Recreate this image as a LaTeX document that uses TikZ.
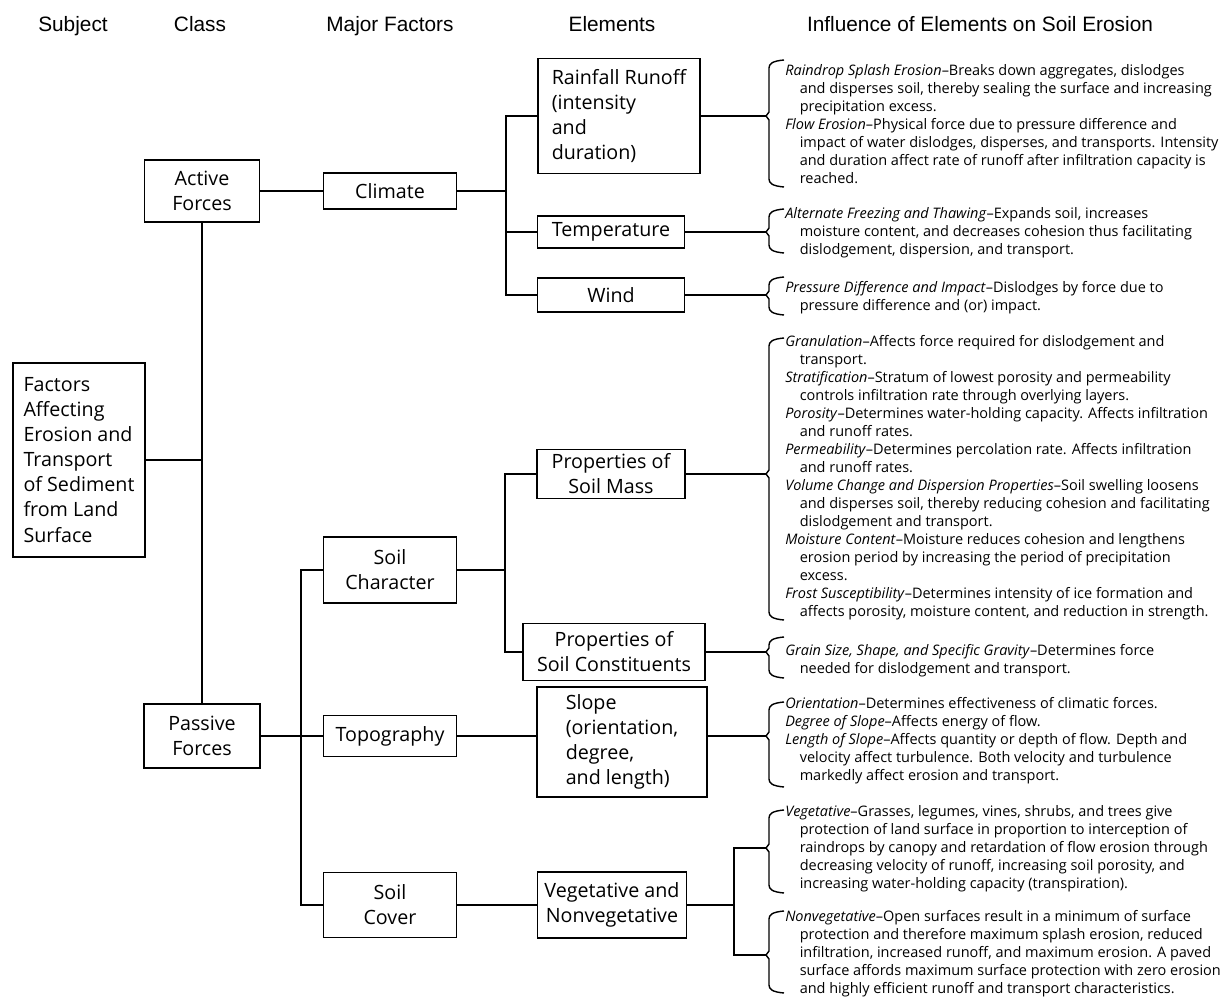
\documentclass[tikz,border=0pt]{standalone}
\usepackage{fontspec}
\setmainfont{Open Sans}
\newfontfamily\headfont{Liberation Sans}
\usetikzlibrary{positioning}

\newcommand{\term}[1]{\textit{#1}\textendash}
\newcommand{\ind}{\hspace*{1em}}
\newcommand{\infobrace}[5]{%
  \draw[link] (#2+15,#3) .. controls (#2+3,#3+1) and (#2,#3+4) .. (#2,#3+8)
    -- (#2,#4-4) -- (#2-3,#4) -- (#2,#4+4) -- (#2,#5-8)
    .. controls (#2,#5-4) and (#2+3,#5-1) .. (#2+15,#5);
  \coordinate (#1) at (#2-3,#4);}

\tikzset{
  box/.style={draw, line width=1.3pt, align=center, inner sep=2pt,
    font=\fontsize{14}{17.8}\selectfont},
  boxsize/.style 2 args={minimum width=#1*0.025cm, minimum height=#2*0.025cm},
  infotext/.style={anchor=north west, inner sep=0pt, align=left,
    font=\fontsize{10.3}{12.8}\selectfont},
  heading/.style={anchor=base, font=\headfont\fontsize{14.8}{16}\selectfont},
  link/.style={line width=1pt}
}

\begin{document}
\begin{tikzpicture}[x=0.025cm, y=-0.025cm]
\useasboundingbox (0,0) rectangle (1225,998);

\node[heading] (hsubject) at (73,32) {Subject};
\node[heading] (hclass) at (200,32) {Class};
\node[heading] (hmajor) at (390,32) {Major Factors};
\node[heading] (helements) at (612,32) {Elements};
\node[heading] (hinfluence) at (980,32) {Influence of Elements on Soil Erosion};

\node[box, boxsize={132}{194}, align=left] (factors) at (79,460)
  {Factors\\Affecting\\Erosion and\\Transport\\of Sediment\\from Land\\Surface};
\node[box, boxsize={115}{62}] (active) at (202,191) {Active\\Forces};
\node[box, boxsize={116}{64}] (passive) at (202,736) {Passive\\Forces};

\node[box, boxsize={133}{36}] (climate) at (390,191) {Climate};
\node[box, boxsize={133}{66}] (soilchar) at (390,570) {Soil\\Character};
\node[box, boxsize={133}{41}] (topo) at (390,736) {Topography};
\node[box, boxsize={133}{65}] (soilcover) at (390,905) {Soil\\Cover};

\node[box, boxsize={162}{115}, align=left] (rain) at (619,116)
  {Rainfall Runoff\\(intensity\\and\\duration)};
\node[box, boxsize={147}{32}] (temp) at (611,232) {Temperature};
\node[box, boxsize={147}{34}] (wind) at (611,295) {Wind};
\node[box, boxsize={148}{49}] (soilmass) at (611,474) {Properties of\\Soil Mass};
\node[box, boxsize={182}{57}] (constit) at (614,652) {Properties of\\Soil Constituents};
\node[box, boxsize={170}{110}, align=left] (slope) at (622,742)
  {Slope\\(orientation,\\degree,\\and length)};
\node[box, boxsize={149}{66}] (veg) at (612,905) {Vegetative and\\Nonvegetative};

\draw[link] (factors.east) -- (factors.east -| active.south);
\draw[link] (active.south) -- (passive.north);
\draw[link] (active) -- (climate);
\draw[link] (passive) -- (topo);

\coordinate (cfork) at (506,191);
\draw[link] (climate) -- (cfork);
\draw[link] (rain.west) -| (cfork) |- (wind.west);
\draw[link] (cfork |- temp.west) -- (temp.west);

\coordinate (pfork) at (301,736);
\draw[link] (soilchar.west) -| (pfork) |- (soilcover.west);

\coordinate (sfork) at (505,570);
\draw[link] (soilchar) -- (sfork);
\draw[link] (soilmass.west) -| (sfork) |- (constit.west);

\draw[link] (topo.east) -- (topo.east -| slope.west);
\draw[link] (soilcover) -- (veg);

\infobrace{brain}{769}{60}{116}{187}
\infobrace{btemp}{769}{209}{232}{253}
\infobrace{bwind}{769}{277}{295}{315}
\infobrace{bmass}{769}{338}{474}{620}
\infobrace{bconstit}{769}{637}{652}{678}
\infobrace{bslope}{769}{702}{736}{787}
\infobrace{bveg}{769}{810}{848}{893}
\infobrace{bnon}{769}{911}{955}{993}

\draw[link] (rain) -- (brain);
\draw[link] (temp) -- (btemp);
\draw[link] (wind) -- (bwind);
\draw[link] (soilmass) -- (bmass);
\draw[link] (constit) -- (bconstit);
\draw[link] (slope.east |- bslope) -- (bslope);
\coordinate (vfork) at (734,905);
\draw[link] (veg) -- (vfork);
\draw[link] (bveg) -| (vfork) |- (bnon);

\node[infotext] (train) at (785,64) {%
\term{Raindrop Splash Erosion}Breaks down aggregates, dislodges\\
\ind and disperses soil, thereby sealing the surface and increasing\\
\ind precipitation excess.\\
\term{Flow Erosion}Physical force due to pressure difference and\\
\ind impact of water dislodges, disperses, and transports. Intensity\\
\ind and duration affect rate of runoff after infiltration capacity is\\
\ind reached.};
\node[infotext] (ttemp) at (785,207) {%
\term{Alternate Freezing and Thawing}Expands soil, increases\\
\ind moisture content, and decreases cohesion thus facilitating\\
\ind dislodgement, dispersion, and transport.};
\node[infotext] (twind) at (785,281) {%
\term{Pressure Difference and Impact}Dislodges by force due to\\
\ind pressure difference and (or) impact.};
\node[infotext] (tmass) at (785,335) {%
\term{Granulation}Affects force required for dislodgement and\\
\ind transport.\\
\term{Stratification}Stratum of lowest porosity and permeability\\
\ind controls infiltration rate through overlying layers.\\
\term{Porosity}Determines water-holding capacity. Affects infiltration\\
\ind and runoff rates.\\
\term{Permeability}Determines percolation rate. Affects infiltration\\
\ind and runoff rates.\\
\term{Volume Change and Dispersion Properties}Soil swelling loosens\\
\ind and disperses soil, thereby reducing cohesion and facilitating\\
\ind dislodgement and transport.\\
\term{Moisture Content}Moisture reduces cohesion and lengthens\\
\ind erosion period by increasing the period of precipitation\\
\ind excess.\\
\term{Frost Susceptibility}Determines intensity of ice formation and\\
\ind affects porosity, moisture content, and reduction in strength.};
\node[infotext] (tconstit) at (785,644) {%
\term{Grain Size, Shape, and Specific Gravity}Determines force\\
\ind needed for dislodgement and transport.};
\node[infotext] (tslope) at (785,697) {%
\term{Orientation}Determines effectiveness of climatic forces.\\
\term{Degree of Slope}Affects energy of flow.\\
\term{Length of Slope}Affects quantity or depth of flow. Depth and\\
\ind velocity affect turbulence. Both velocity and turbulence\\
\ind markedly affect erosion and transport.};
\node[infotext] (tveg) at (785,805) {%
\term{Vegetative}Grasses, legumes, vines, shrubs, and trees give\\
\ind protection of land surface in proportion to interception of\\
\ind raindrops by canopy and retardation of flow erosion through\\
\ind decreasing velocity of runoff, increasing soil porosity, and\\
\ind increasing water-holding capacity (transpiration).};
\node[infotext] (tnon) at (785,910) {%
\term{Nonvegetative}Open surfaces result in a minimum of surface\\
\ind protection and therefore maximum splash erosion, reduced\\
\ind infiltration, increased runoff, and maximum erosion. A paved\\
\ind surface affords maximum surface protection with zero erosion\\
\ind and highly efficient runoff and transport characteristics.};
\end{tikzpicture}
\end{document}
